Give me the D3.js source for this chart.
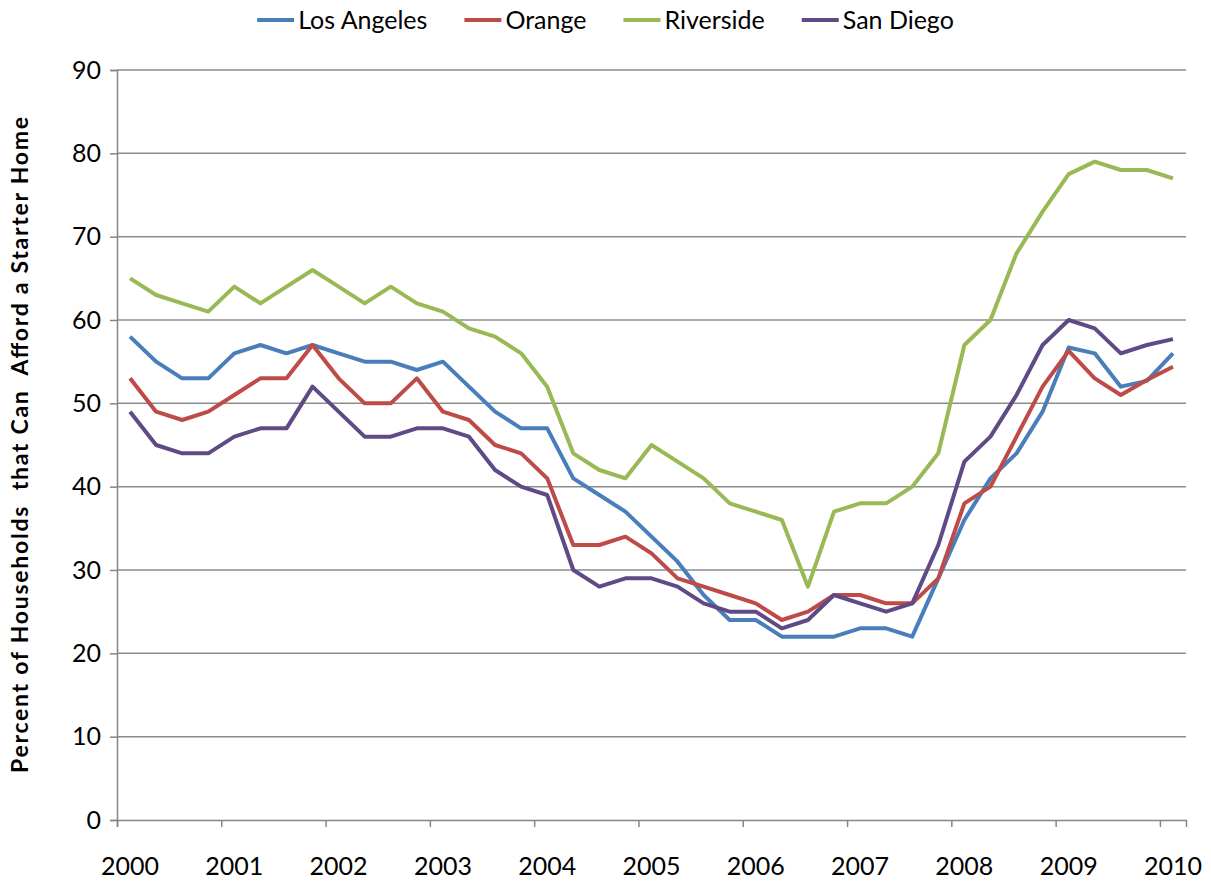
<!DOCTYPE html>
<html>
<head>
<meta charset="utf-8">
<script src="https://cdn.jsdelivr.net/npm/d3@7"></script>
<style>
  body { margin: 0; background: #fff; }
  svg { display: block; font-family: Lato, "Open Sans", sans-serif; }
</style>
</head>
<body>
<svg id="chart" width="1211" height="882"></svg>
<script>
// quarterly values, 2000 Q1 .. 2010 Q1
const years = ["2000","2001","2002","2003","2004","2005","2006","2007","2008","2009","2010"];
const yTicks = [0,10,20,30,40,50,60,70,80,90];

const losAngeles = [58,55,53,53,56,57,56,57,56,55,55,54,55,
  52,49,47,47,41,39,37,34,31,27,24,24,
  22,22,22,23,23,22,29,36,41,44,49,56.7,56,52,52.7,56];
const orange = [53,49,48,49,51,53,53,57,53,50,50,53,49,
  48,45,44,41,33,33,34,32,29,28,27,26,
  24,25,27,27,26,26,29,38,40,46,52,56.3,53,51,52.8,54.4];
const riverside = [65,63,62,61,64,62,64,66,64,62,64,62,61,
  59,58,56,52,44,42,41,45,43,41,38,37,
  36,28,37,38,38,40,44,57,60,68,73,77.5,79,78,78,77];
const sanDiego = [49,45,44,44,46,47,47,52,49,46,46,47,47,
  46,42,40,39,30,28,29,29,28,26,25,25,
  23,24,27,26,25,26,33,43,46,51,57,60,59,56,57,57.7];

const seriesNames = ["Los Angeles","Orange","Riverside","San Diego"];
const seriesValues = [losAngeles, orange, riverside, sanDiego];
const colors = ["#4A7EBB","#BE4B48","#98B954","#5F4A85"];

const margin = {left: 117, right: 25, top: 70, bottom: 62};
const W = 1211, H = 882;

const svg = d3.select("#chart");

const nCat = losAngeles.length;
const x = d3.scaleBand().domain(d3.range(nCat)).range([margin.left, W - margin.right]);
const xEdge = d3.scaleLinear().domain([0, nCat]).range([margin.left, W - margin.right]);
const y = d3.scaleLinear().domain([0, 90]).range([H - margin.bottom, margin.top]);

// gridlines
svg.append("g")
  .selectAll("line").data(yTicks.filter(d => d > 0)).join("line")
  .attr("x1", margin.left).attr("x2", W - margin.right)
  .attr("y1", d => y(d)).attr("y2", d => y(d))
  .attr("stroke", "#8c8c8c").attr("stroke-width", 1.5);

// y axis
const yAxis = svg.append("g")
  .attr("transform", `translate(${margin.left},0)`)
  .call(d3.axisLeft(y).tickValues(yTicks).tickSize(7).tickPadding(9));
yAxis.select(".domain").attr("stroke", "#868686").attr("stroke-width", 1.5);
yAxis.selectAll(".tick line").attr("stroke", "#868686").attr("stroke-width", 1.5);
yAxis.selectAll("text").attr("font-size", 25).attr("fill", "#000")
  .attr("font-family", "Lato, sans-serif");

// x axis: tick marks between years, labels on the year's first quarter
const xAxis = svg.append("g")
  .attr("transform", `translate(0,${H - margin.bottom})`)
  .call(d3.axisBottom(xEdge).tickValues(d3.range(0, nCat, 4)).tickSize(7).tickFormat(""));
xAxis.select(".domain").attr("stroke", "#868686").attr("stroke-width", 1.5);
xAxis.selectAll(".tick line").attr("stroke", "#868686").attr("stroke-width", 1.5);

svg.append("g")
  .selectAll("text").data(years).join("text")
  .attr("x", (d, i) => x(i * 4) + x.bandwidth() / 2)
  .attr("y", H - 7)
  .attr("text-anchor", "middle")
  .attr("font-size", 25)
  .text(d => d);

// y title (spread to the same length as the original)
svg.append("text")
  .attr("transform", `translate(28,${(y(0) + y(90)) / 2}) rotate(-90)`)
  .attr("text-anchor", "middle")
  .attr("font-weight", "bold")
  .attr("font-size", 23)
  .attr("xml:space", "preserve")
  .attr("textLength", 656)
  .attr("lengthAdjust", "spacing")
  .text("Percent of Households  that Can  Afford a Starter Home");

// lines
const line = d3.line()
  .x((d, i) => x(i) + x.bandwidth() / 2)
  .y(d => y(d));

svg.append("g")
  .selectAll("path").data(seriesValues).join("path")
  .attr("d", d => line(d))
  .attr("fill", "none")
  .attr("stroke", (d, i) => colors[i])
  .attr("stroke-width", 4)
  .attr("stroke-linejoin", "round");

// legend
const legend = svg.append("g");
let lx = 0;
seriesNames.forEach((name, i) => {
  const g = legend.append("g").attr("transform", `translate(${lx},0)`);
  g.append("line").attr("x1", 0).attr("x2", 37).attr("y1", 20).attr("y2", 20)
    .attr("stroke", colors[i]).attr("stroke-width", 4);
  const t = g.append("text").attr("x", 41).attr("y", 29)
    .attr("font-size", 25).text(name);
  lx += 41 + t.node().getComputedTextLength() + 37;
});
const legendW = lx - 37;
legend.attr("transform", `translate(${(W - legendW) / 2},0)`);
</script>
</body>
</html>
